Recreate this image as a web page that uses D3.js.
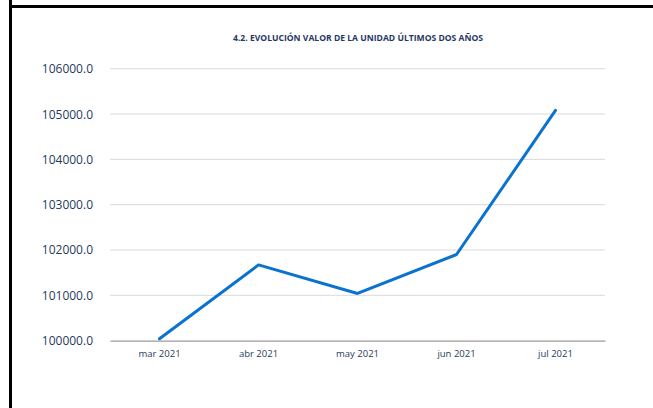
<!DOCTYPE html>
<html>
<head>
<meta charset="utf-8">
<script src="https://cdn.jsdelivr.net/npm/d3@7"></script>
<style>
  body { margin: 0; background: #fff; }
  svg { display: block; }
</style>
</head>
<body>
<script>
const title = "4.2. EVOLUCIÓN VALOR DE LA UNIDAD ÚLTIMOS DOS AÑOS";
const months = ["mar 2021", "abr 2021", "may 2021", "jun 2021", "jul 2021"];
const values = [100040, 101670, 101040, 101900, 105080];
const yTicks = [100000, 101000, 102000, 103000, 104000, 105000, 106000];

const width = 653, height = 408;
const plotLeft = 110, plotRight = 605, plotTop = 68.7, plotBottom = 340.6;

const svg = d3.select("body").append("svg")
    .attr("width", width)
    .attr("height", height);

// frame
svg.append("rect").attr("x", 9).attr("y", 0).attr("width", 3).attr("height", height).attr("fill", "#000");
svg.append("rect").attr("x", 9).attr("y", 5).attr("width", width - 9).attr("height", 3).attr("fill", "#000");

svg.append("text")
    .attr("x", 358)
    .attr("y", 41)
    .attr("text-anchor", "middle")
    .attr("font-family", "'Open Sans', sans-serif")
    .attr("font-weight", "bold")
    .attr("font-size", 8.2)
    .attr("textLength", 250)
    .attr("lengthAdjust", "spacingAndGlyphs")
    .attr("fill", "#1F3864")
    .text(title);

const x = d3.scaleBand().domain(months).range([plotLeft, plotRight]);
const y = d3.scaleLinear().domain([100000, 106000]).range([plotBottom, plotTop]);

// gridlines
svg.append("g").selectAll("line")
    .data(yTicks.slice(1))
    .enter().append("line")
    .attr("x1", plotLeft).attr("x2", plotRight)
    .attr("y1", d => y(d)).attr("y2", d => y(d))
    .attr("stroke", "#D9D9D9")
    .attr("stroke-width", 1);

// y labels
svg.append("g").selectAll("text")
    .data(yTicks)
    .enter().append("text")
    .attr("x", 93)
    .attr("y", d => y(d) + 4.5)
    .attr("text-anchor", "end")
    .attr("font-family", "'Open Sans', sans-serif")
    .attr("font-size", 12)
    .attr("fill", "#1F3B5C")
    .text(d => d3.format(".1f")(d));

// x axis
const xAxis = svg.append("g")
    .attr("transform", `translate(0,${y(100000)})`)
    .call(d3.axisBottom(x).tickSize(0).tickPadding(10));
xAxis.select(".domain").attr("stroke", "#808080").attr("stroke-width", 1);
xAxis.selectAll("text")
    .attr("font-family", "'Open Sans', sans-serif")
    .attr("font-size", 9.5)
    .attr("fill", "#1F3B5C");

// line
const line = d3.line()
    .x((d, i) => x(months[i]) + x.bandwidth() / 2)
    .y(d => y(d));

svg.append("path")
    .datum(values)
    .attr("d", line)
    .attr("fill", "none")
    .attr("stroke", "#0A72CF")
    .attr("stroke-width", 3)
    .attr("stroke-linejoin", "round")
    .attr("stroke-linecap", "round");
</script>
</body>
</html>
